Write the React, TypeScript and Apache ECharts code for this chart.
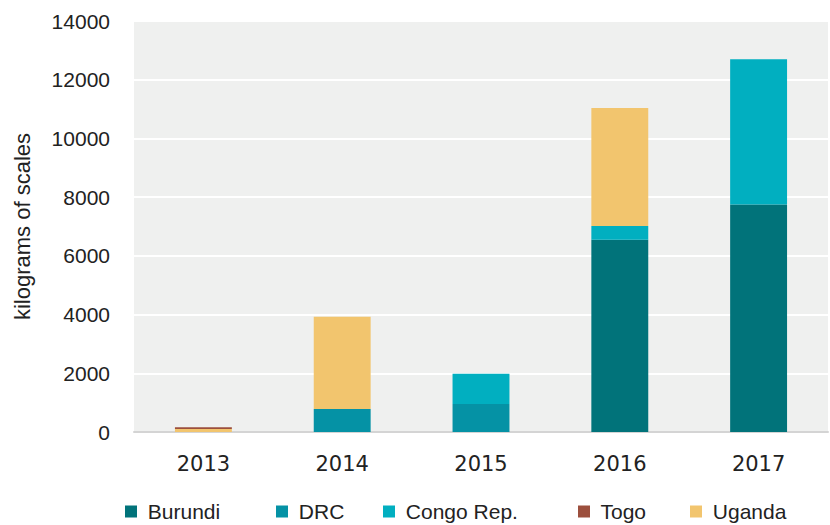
import React, { useEffect, useRef } from "react";
import * as echarts from "echarts";

const years = ["2013", "2014", "2015", "2016", "2017"];
const burundi = [0, 0, 0, 6550, 7750];
const drc = [0, 780, 950, 0, 0];
const congoRep = [0, 0, 1030, 470, 4950];
const togo = [60, 0, 0, 0, 0];
const uganda = [100, 3150, 0, 4020, 0];

const colors: Record<string, string> = {
  Burundi: "#01737a",
  DRC: "#0592a5",
  "Congo Rep.": "#01afc0",
  Togo: "#9c4f3d",
  Uganda: "#f2c56e",
};

const legendPos: [string, number][] = [
  ["Burundi", 125],
  ["DRC", 276],
  ["Congo Rep.", 383],
  ["Togo", 578],
  ["Uganda", 690],
];

export default function App() {
  const ref = useRef<HTMLDivElement>(null);
  useEffect(() => {
    const chart = echarts.init(ref.current!, null, { renderer: "svg" });
    const font = "'Liberation Sans', Arial, sans-serif";
    const mk = (name: string, data: number[]) => ({
      name,
      type: "bar",
      stack: "total",
      data,
      barWidth: "41%",
      itemStyle: { color: colors[name] },
    });
    chart.setOption({
      animation: false,
      backgroundColor: "#ffffff",
      textStyle: { fontFamily: font },
      grid: { left: 134, right: 2, top: 21, bottom: 93 },
      legend: legendPos.map(([n, x]) => ({
        data: [n],
        left: x,
        top: 501,
        padding: 0,
        itemWidth: 12,
        itemHeight: 12,
        itemGap: 0,
        icon: "rect",
        formatter: (s: string) => " " + s,
        textStyle: { fontSize: 21, color: "#222", fontFamily: font },
      })),
      xAxis: {
        type: "category",
        data: years,
        axisLine: { lineStyle: { color: "#d4d4d4", width: 2 } },
        axisTick: { show: false },
        axisLabel: { fontSize: 21, color: "#222", margin: 21, fontFamily: "'DejaVu Sans', Verdana, sans-serif" },
        splitArea: { show: false },
      },
      yAxis: {
        type: "value",
        min: 0,
        max: 14000,
        interval: 2000,
        name: "kilograms of scales",
        nameLocation: "middle",
        nameGap: 101,
        nameTextStyle: { fontSize: 22, color: "#222" },
        axisLine: { show: false },
        axisTick: { show: false },
        axisLabel: { fontSize: 21, color: "#222", margin: 24, formatter: (v: number) => String(v) },
        splitLine: { lineStyle: { color: "#ffffff", width: 2 } },
        splitArea: { show: true, areaStyle: { color: ["#eff0ef", "#eff0ef"] } },
      },
      series: [
        mk("Burundi", burundi),
        mk("DRC", drc),
        mk("Congo Rep.", congoRep),
        mk("Uganda", uganda),
        mk("Togo", togo),
      ],
    });
    return () => chart.dispose();
  }, []);
  return <div ref={ref} style={{ width: 830, height: 525, position: "absolute", left: 0, top: 0 }} />;
}
